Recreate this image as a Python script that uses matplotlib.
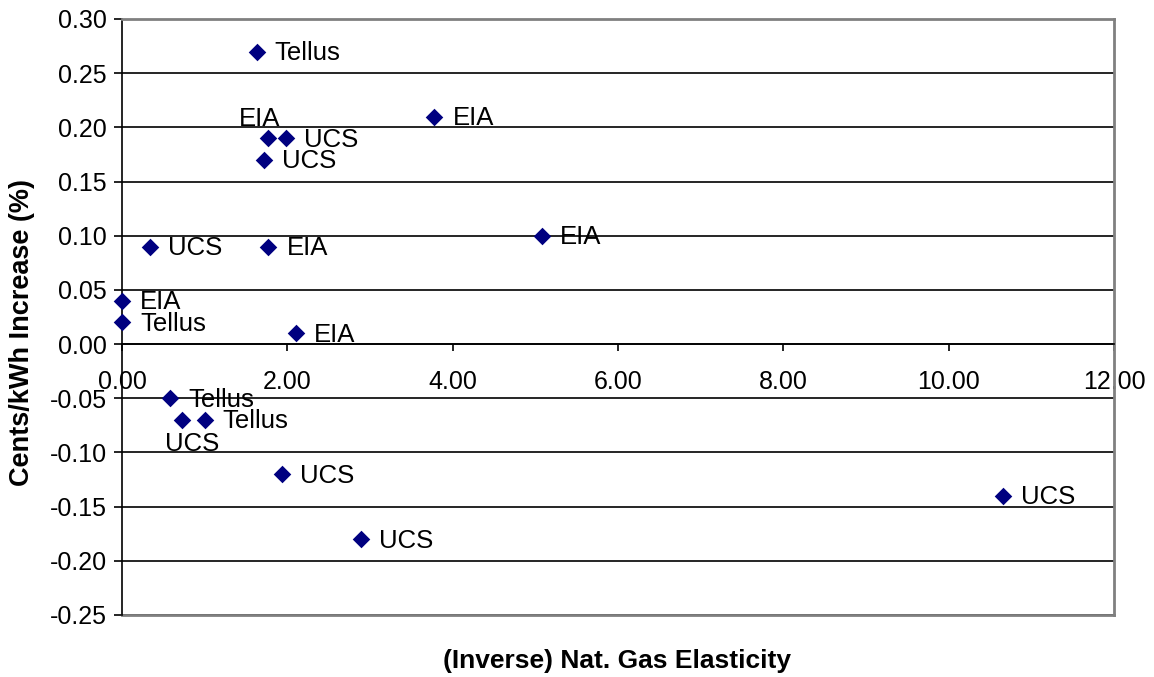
import matplotlib
matplotlib.use("Agg")
import matplotlib.pyplot as plt
from matplotlib.ticker import FixedLocator, FormatStrFormatter

plt.rcParams['font.family'] = ['Liberation Sans', 'DejaVu Sans']

# data
labels = ["Tellus", "EIA", "UCS", "UCS", "EIA", "EIA", "UCS", "EIA", "EIA", "Tellus",
          "EIA", "Tellus", "UCS", "Tellus", "UCS", "UCS", "UCS"]
x_vals = [1.63, 1.77, 1.98, 1.72, 3.78, 5.08, 0.34, 1.77, 0.00, 0.00,
          2.10, 0.58, 0.73, 1.00, 1.93, 2.89, 10.66]
y_vals = [0.27, 0.19, 0.19, 0.17, 0.21, 0.10, 0.09, 0.09, 0.04, 0.02,
          0.01, -0.05, -0.07, -0.07, -0.12, -0.18, -0.14]
label_pos = ["right", "above", "right", "right", "right", "right", "right", "right", "right", "right",
             "right", "right", "below", "right", "right", "right", "right"]
x_ticks = [0, 2, 4, 6, 8, 10, 12]
y_ticks = [-0.25, -0.20, -0.15, -0.10, -0.05, 0.00, 0.05, 0.10, 0.15, 0.20, 0.25, 0.30]

fig = plt.figure(figsize=(11.54, 6.77), dpi=100)
ax = fig.add_axes([122/1154, 1 - 615/677, (1114-122)/1154, (615-19)/677])

ax.set_xlim(0, 12)
ax.set_ylim(-0.25, 0.30)

for yt in y_ticks:
    ax.axhline(yt, color='black', lw=1.2, zorder=1)

ax.scatter(x_vals, y_vals, marker='D', s=80, color='#000080', zorder=3, clip_on=False,
           linewidths=0)

ann_fs = 18.5
for lab, xv, yv, pos in zip(labels, x_vals, y_vals, label_pos):
    if pos == "right":
        ax.annotate(lab, (xv, yv), xytext=(13, -1), textcoords='offset points',
                    ha='left', va='center', fontsize=ann_fs, color='black', zorder=4)
    elif pos == "above":
        ax.annotate(lab, (xv, yv), xytext=(-6, 14), textcoords='offset points',
                    ha='center', va='center', fontsize=ann_fs, color='black', zorder=4)
    else:
        ax.annotate(lab, (xv, yv), xytext=(7, -17), textcoords='offset points',
                    ha='center', va='center', fontsize=ann_fs, color='black', zorder=4)

ax.spines['left'].set_color('black')
ax.spines['left'].set_linewidth(1.2)
ax.spines['bottom'].set_position(('data', 0))
ax.spines['bottom'].set_color('black')
ax.spines['bottom'].set_linewidth(1.2)
ax.spines['top'].set_color('#808080')
ax.spines['top'].set_linewidth(2)
ax.spines['right'].set_color('#808080')
ax.spines['right'].set_linewidth(2)

ax.xaxis.set_major_locator(FixedLocator(x_ticks))
ax.yaxis.set_major_locator(FixedLocator(y_ticks))
ax.xaxis.set_major_formatter(FormatStrFormatter('%.2f'))
ax.yaxis.set_major_formatter(FormatStrFormatter('%.2f'))
ax.tick_params(axis='y', direction='out', length=6, width=1.2, labelsize=18, pad=5)
ax.tick_params(axis='x', direction='out', length=5, width=1.2, labelsize=18, pad=14)

# bottom border of plot area
ax.plot([0, 12], [-0.25, -0.25], color='#808080', lw=2, clip_on=False, zorder=2)

fig.text(617/1154, 1 - 661/677, "(Inverse) Nat. Gas Elasticity", fontsize=19,
         fontweight='bold', ha='center', va='center')
fig.text(22/1154, 1 - 332/677, "Cents/kWh Increase (%)", fontsize=19.5,
         fontweight='bold', ha='center', va='center', rotation=90)

fig.savefig("out.png", dpi=100, facecolor='white')
